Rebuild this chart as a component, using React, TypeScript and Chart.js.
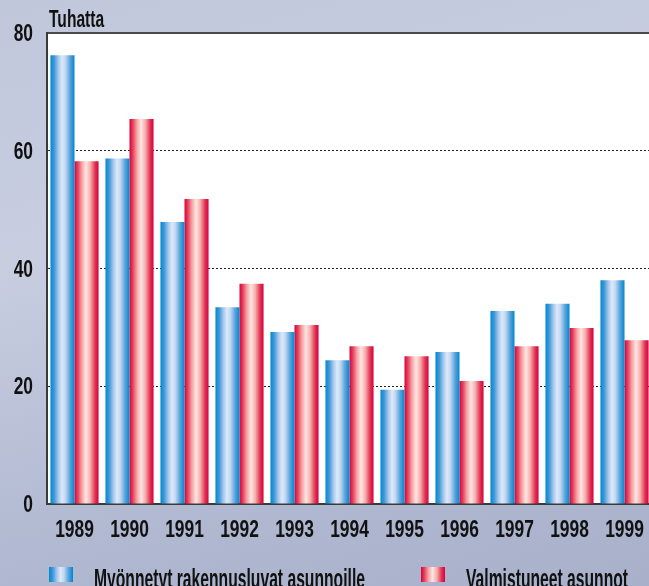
import React, { useEffect, useRef } from "react";
import { Chart, registerables } from "chart.js";

Chart.register(...registerables);

const years = ["1989", "1990", "1991", "1992", "1993", "1994", "1995", "1996", "1997", "1998", "1999"];
const permits = [76.2, 58.7, 47.9, 33.4, 29.2, 24.4, 19.4, 25.8, 32.8, 34.0, 38.0];
const completed = [58.2, 65.4, 51.8, 37.4, 30.4, 26.8, 25.1, 20.9, 26.8, 29.9, 27.8];
const yTickValues = [0, 20, 40, 60, 80];
const seriesNames = ["Myönnetyt rakennusluvat asunnoille", "Valmistuneet asunnot"];
const unitLabel = "Tuhatta";

const FONT = "'Liberation Sans', Arial, sans-serif";
const CAT_PCT = 0.875;
const DIGIT_SX = 0.74;
const TEXT_SX = 0.65;
const LEGEND_SX = 0.56;

const blueStops: [number, string][] = [
  [0, "#0388d2"],
  [0.15, "#3a98d8"],
  [0.32, "#a2c4eb"],
  [0.48, "#dde9fa"],
  [0.62, "#c2d7f1"],
  [0.82, "#56a3dc"],
  [1, "#0086cf"],
];
const redStops: [number, string][] = [
  [0, "#d9003e"],
  [0.14, "#e7405c"],
  [0.3, "#f4a0a0"],
  [0.48, "#ffe6e4"],
  [0.66, "#f6acaa"],
  [0.86, "#e13152"],
  [1, "#d8003e"],
];

function makeGradient(c: CanvasRenderingContext2D, left: number, width: number, stops: [number, string][]) {
  const g = c.createLinearGradient(left, 0, left + width, 0);
  stops.forEach(([o, col]) => g.addColorStop(o, col));
  return g;
}

function barFill(stops: [number, string][], side: number) {
  return (ctx: any) => {
    const chart = ctx.chart;
    const xs = chart.scales && chart.scales.x;
    if (!xs || ctx.dataIndex === undefined) return stops[0][1];
    const catW = (xs.right - xs.left) / years.length;
    const barW = (catW * CAT_PCT) / 2;
    const c = xs.getPixelForValue(ctx.dataIndex);
    const left = side === 0 ? c - barW : c;
    if (!isFinite(left) || !isFinite(barW) || barW <= 0) return stops[0][1];
    return makeGradient(chart.ctx, left, barW, stops);
  };
}

function drawText(
  ctx: CanvasRenderingContext2D,
  text: string,
  x: number,
  y: number,
  align: CanvasTextAlign,
  size: number,
  sx: number
) {
  ctx.save();
  ctx.font = `bold ${size}px ${FONT}`;
  ctx.fillStyle = "#111111";
  ctx.textAlign = align;
  ctx.textBaseline = "alphabetic";
  ctx.translate(x, y);
  ctx.scale(sx, 1);
  ctx.fillText(text, 0, 0);
  ctx.restore();
}

const decorPlugin = {
  id: "decor",
  beforeDraw(chart: any) {
    const { ctx, chartArea } = chart;
    ctx.save();
    ctx.fillStyle = "#ffffff";
    ctx.fillRect(chartArea.left, chartArea.top, chartArea.right - chartArea.left, chartArea.bottom - chartArea.top);
    ctx.restore();
  },
  afterDraw(chart: any) {
    const { ctx, chartArea } = chart;
    const xs = chart.scales.x;
    const ys = chart.scales.y;

    (chart.data.labels as string[]).forEach((lab, i) => {
      drawText(ctx, lab, xs.getPixelForValue(i), chartArea.bottom + 33, "center", 23.5, DIGIT_SX);
    });
    yTickValues.forEach((v) => {
      drawText(ctx, String(v), chartArea.left - 14, ys.getPixelForValue(v) + 8, "right", 23.5, DIGIT_SX);
    });

    drawText(ctx, unitLabel, chartArea.left + 2, chartArea.top - 6, "left", 24, TEXT_SX);

    const items = [
      { stops: blueStops, sx: chartArea.left + 2, tx: chartArea.left + 47, name: seriesNames[0] },
      { stops: redStops, sx: chartArea.left + 374, tx: chartArea.left + 419, name: seriesNames[1] },
    ];
    const sy = chartArea.bottom + 63;
    items.forEach((it) => {
      ctx.save();
      ctx.fillStyle = makeGradient(ctx, it.sx, 24, it.stops);
      ctx.fillRect(it.sx, sy, 24, 15);
      ctx.restore();
      drawText(ctx, it.name, it.tx, sy + 21, "left", 28, LEGEND_SX);
    });
  },
};

export default function App() {
  const ref = useRef<HTMLCanvasElement | null>(null);
  useEffect(() => {
    if (!ref.current) return;
    const chart = new Chart(ref.current, {
      type: "bar",
      data: {
        labels: years,
        datasets: [
          {
            label: seriesNames[0],
            data: permits,
            backgroundColor: barFill(blueStops, 0),
            borderWidth: 0,
            categoryPercentage: CAT_PCT,
            barPercentage: 1,
          },
          {
            label: seriesNames[1],
            data: completed,
            backgroundColor: barFill(redStops, 1),
            borderWidth: 0,
            categoryPercentage: CAT_PCT,
            barPercentage: 1,
          },
        ],
      },
      options: {
        responsive: false,
        animation: false,
        devicePixelRatio: 1,
        layout: { padding: { top: 33, bottom: 42, left: 0, right: 4 } },
        plugins: {
          legend: { display: false },
          tooltip: { enabled: false },
          title: { display: false },
        },
        scales: {
          x: {
            grid: { display: false, drawTicks: false },
            border: { display: true, color: "#3a3a3a", width: 2 },
            ticks: { display: false, autoSkip: false },
            afterFit: (s: any) => {
              s.height = 40;
            },
          },
          y: {
            min: 0,
            max: 80,
            afterBuildTicks: (s: any) => {
              s.ticks = yTickValues.map((v) => ({ value: v }));
            },
            grid: {
              drawTicks: false,
              color: (c: any) => {
                const v = c.tick ? c.tick.value : -1;
                if (v === 0) return "rgba(0,0,0,0)";
                if (v === 80) return "#4a4a4a";
                return "#222222";
              },
              lineWidth: (c: any) => (c.tick && c.tick.value === 80 ? 2 : 1),
            },
            border: {
              display: true,
              color: "#3a3a3a",
              width: 2,
              dash: (c: any) => (c.tick && c.tick.value > 0 && c.tick.value < 80 ? [2, 2] : []),
            },
            ticks: { display: false },
            afterFit: (s: any) => {
              s.width = 47;
            },
          },
        },
      },
      plugins: [decorPlugin],
    });
    chart.update();
    return () => chart.destroy();
  }, []);

  return (
    <div
      style={{
        position: "fixed",
        left: 0,
        top: 0,
        width: 649,
        height: 586,
        overflow: "hidden",
        background: "linear-gradient(165deg, #c0c7db 0%, #c8cee0 35%, #b3bbd3 70%, #a8b0ca 100%)",
      }}
    >
      <canvas ref={ref} width={656} height={586} style={{ width: 656, height: 586, display: "block" }} />
    </div>
  );
}
